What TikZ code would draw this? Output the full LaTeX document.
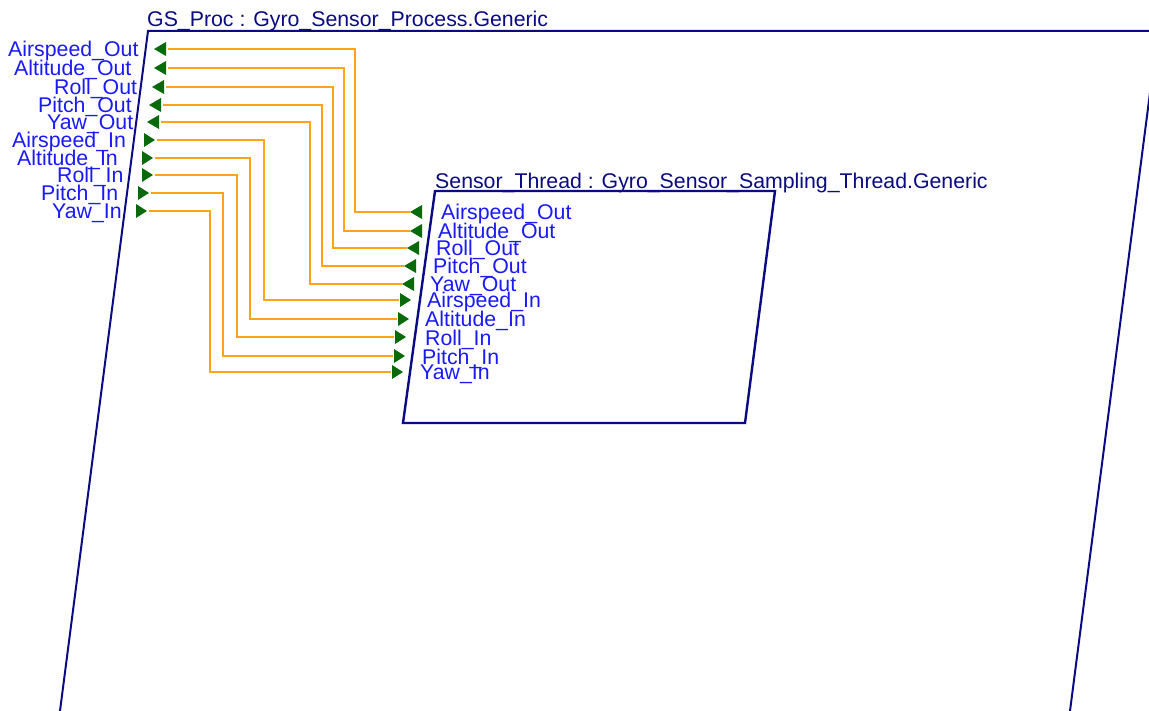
\documentclass[tikz,border=0pt]{standalone}
\usepackage{fontspec}
\setmainfont{Liberation Sans}

\definecolor{boxnavy}{RGB}{10,10,130}
\definecolor{portblue}{RGB}{25,25,250}
\definecolor{portgreen}{RGB}{10,105,10}
\definecolor{linkorange}{RGB}{255,163,26}

\tikzset{
  comp/.style={draw=boxnavy, line width=2pt, line join=miter},
  title/.style={anchor=base west, inner sep=0pt, text=boxnavy},
  portlabel/.style={anchor=base west, inner sep=0pt, text=portblue},
  link/.style={draw=linkorange, line width=2.5pt},
  inport/.pic={\fill[portgreen] (0,-7) -- (11,0) -- (0,7) -- cycle;},
  outport/.pic={\fill[portgreen] (0,0) -- (12,-7) -- (12,7) -- cycle;},
}

\begin{document}
\begin{tikzpicture}[x=1pt, y=-1pt, font=\fontsize{21.3}{21.3}\selectfont]
    \useasboundingbox (0,0) rectangle (1149,711);

    % Process box (runs off the page on the right and bottom)
    \begin{scope}
        \clip (0,0) rectangle (1149,711);
        \draw[comp] (148,31) -- (1158,31) -- (1067.4,731) -- (57.4,731) -- cycle;
    \end{scope}
    \node[title] (gsTitle) at (147,27) {GS\_Proc : Gyro\_Sensor\_Process.Generic};

    % Thread box
    \draw[comp, line width=2.4pt] (435,191) -- (775,191) -- (745,423) -- (403,423) -- cycle;
    \node[title] (stTitle) at (435,189) {Sensor\_Thread : Gyro\_Sensor\_Sampling\_Thread.Generic};

    % Out ports: thread -> process
    \foreach \nm/\txt/\oy/\olx/\otri/\iy/\ilx/\itri/\vx in {
        AirspeedOut/Airspeed\_Out/49/8/154/212/441/410/355,
        AltitudeOut/Altitude\_Out/68/14/154/231/438/410/344,
        RollOut/Roll\_Out/87/54/152/248/436/407/333,
        PitchOut/Pitch\_Out/105/38/149/266/433/404/322,
        YawOut/Yaw\_Out/122/47/147/284/430/402/310}{
        \pic at (\otri,\oy) {outport};
        \pic at (\itri,\iy) {outport};
        \node[portlabel] (gs\nm-lbl) at (\olx,\oy+8) {\txt};
        \node[portlabel] (st\nm-lbl) at (\ilx,\iy+8) {\txt};
        \coordinate (gs\nm) at (\otri+14,\oy);
        \coordinate (st\nm) at (\itri,\iy);
        \draw[link] (gs\nm) -| (\vx,\iy) -- (st\nm);
    }

    % In ports: process -> thread
    \foreach \nm/\txt/\oy/\olx/\otri/\iy/\ilx/\itri/\vx in {
        AirspeedIn/Airspeed\_In/140/12/144/300/427/400/264,
        AltitudeIn/Altitude\_In/158/17/142/319/425/398/250,
        RollIn/Roll\_In/175/57/142/337/425/395/237,
        PitchIn/Pitch\_In/193/41/138/356/422/394/223,
        YawIn/Yaw\_In/211/52/136/372/420/392/210}{
        \pic at (\otri,\oy) {inport};
        \pic at (\itri,\iy) {inport};
        \node[portlabel] (gs\nm-lbl) at (\olx,\oy+8) {\txt};
        \node[portlabel] (st\nm-lbl) at (\ilx,\iy+8) {\txt};
        \coordinate (gs\nm) at (\otri+13,\oy);
        \coordinate (st\nm) at (\itri-1,\iy);
        \draw[link] (gs\nm) -| (\vx,\iy) -- (st\nm);
    }
\end{tikzpicture}
\end{document}
